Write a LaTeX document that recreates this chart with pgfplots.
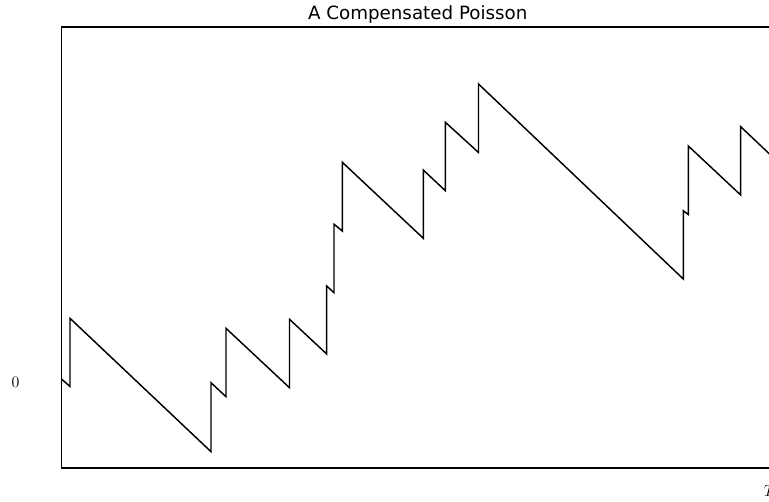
\documentclass[border=0pt]{standalone}
\usepackage[no-math]{fontspec}
\usepackage{pgfplots}
\pgfplotsset{compat=1.18}
\newfontfamily\dejavu{DejaVu Sans}
\begin{document}
\begin{tikzpicture}
\begin{axis}[
  at={(46.125pt,25.5pt)}, anchor=south west,
  scale only axis,
  width=534.375pt, height=330.75pt,
  xmin=0, xmax=712.5,
  ymin=-1.248, ymax=5.190,
  xtick={708}, xticklabels={$T$},
  ytick={0}, yticklabels={$0$},
  major tick length=0pt,
  tick label style={font=\fontsize{11.6}{14}\selectfont},
  yticklabel style={xshift=-28pt},
  xticklabel style={yshift=-10pt},
  axis line style={line width=0.8pt},
  title={A Compensated Poisson},
  title style={at={(0.5,1)}, anchor=base, yshift=-0.6pt, font=\dejavu\fontsize{13.7}{16}\selectfont},
]
\addplot[black, line width=1.1pt, line join=miter] coordinates {
(0,0.051) (8.5,-0.058) (8.5,0.937) (149.5,-1.010) (149.5,-0.003)
(164.5,-0.207) (164.5,0.791) (228,-0.076) (228,0.923) (265.2,0.416)
(265.2,1.409) (272.5,1.311) (272.5,2.311) (280.8,2.212) (280.8,3.215)
(361.8,2.105) (361.8,3.102) (383.8,2.800) (383.8,3.800) (417,3.358)
(417,4.358) (621.8,1.511) (621.8,2.508) (626.8,2.453) (626.8,3.453)
(679.2,2.737) (679.2,3.734) (712.5,3.274)
};
\end{axis}
\pgfresetboundingbox
\useasboundingbox (0,0) rectangle (576.75pt,376.5pt);
\end{tikzpicture}
\end{document}
